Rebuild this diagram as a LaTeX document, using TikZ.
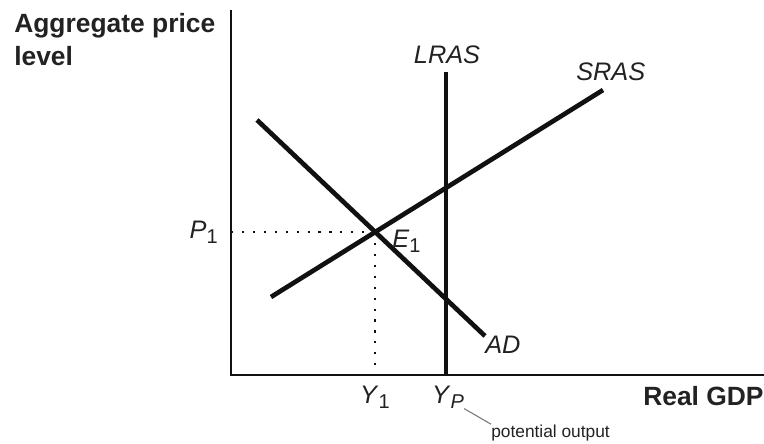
\documentclass[tikz,border=0pt]{standalone}
\usepackage{fontspec}
\setmainfont{Liberation Sans}
\usetikzlibrary{calc, positioning}
\definecolor{inkBlack}{HTML}{111111}
\definecolor{textGrey}{HTML}{222222}
\definecolor{pinGrey}{HTML}{777777}
\newcommand{\lowidx}[1]{\raisebox{-0.4ex}{\fontsize{15}{15}\selectfont #1}}
\tikzset{
  axis/.style  = {draw=inkBlack, line width=1.9pt},
  curve/.style = {draw=inkBlack, line width=3.5pt},
  guide/.style = {draw=inkBlack, line width=1.8pt, dash pattern=on 1.6pt off 6.6pt},
  axlbl/.style = {font=\fontsize{19.8}{24.75}\selectfont\bfseries, text=textGrey,
                  align=left, inner sep=0pt},
  crvlbl/.style= {font=\fontsize{19}{22}\selectfont\itshape, text=textGrey, inner sep=0pt},
  pnt/.style   = {font=\fontsize{19}{22}\selectfont, text=textGrey, inner sep=0pt},
  note/.style  = {font=\fontsize{13}{15}\selectfont, text=textGrey, inner sep=0pt},
  pinline/.style = {draw=pinGrey, line width=0.8pt}
}

\begin{document}
\begin{tikzpicture}[x=0.75pt, y=-0.75pt]
  \useasboundingbox (0,0) rectangle (764,443);

  % axes
  \coordinate (ytop) at (231,10);
  \coordinate (o) at (231,375);
  \coordinate (xend) at (764,375);
  \draw[axis] (ytop) -- (o) -- (xend);
  \node[axlbl, anchor=north west] (ylab) at (14,13) {Aggregate price\\level};
  \node[axlbl, anchor=base west] (xlab) at (643,405) {Real GDP};

  % curves
  \coordinate (lr0) at (446,72);
  \coordinate (lr1) at (446,375);
  \coordinate (sr0) at (271,297);
  \coordinate (sr1) at (603,90);
  \coordinate (ad0) at (257,120);
  \coordinate (ad1) at (485,336);
  \draw[curve] (lr0) -- (lr1);
  \draw[curve] (sr0) -- (sr1);
  \draw[curve] (ad0) -- (ad1);
  \node[crvlbl, anchor=base] (lras) at (447,63) {LRAS};
  \node[crvlbl, anchor=base west] (sras) at (576,80) {SRAS};
  \node[crvlbl, anchor=base west] (ad) at (485,353) {AD};

  % equilibrium
  \coordinate (E) at (intersection of ad0--ad1 and sr0--sr1);
  \coordinate (Ey) at (o |- E);
  \coordinate (Ex) at (E |- o);
  \draw[guide] (Ey) -- (E);
  \draw[guide] (E) -- (Ex);
  \node[pnt, anchor=base west] (e1) at (392,247) {\textit{E}\lowidx{1}};
  \node[pnt, anchor=base east] (p1) at (218,238) {\textit{P}\lowidx{1}};
  \node[pnt, anchor=base] (y1) at (375,403) {\textit{Y}\lowidx{1}};
  \node[pnt, anchor=base] (yp) at (448,403) {\textit{Y}\lowidx{\textit{P}}};

  \node[note, anchor=base west] (po) at (491,437) {potential output};
  \draw[pinline] (yp.south east) -- (po.north west);
\end{tikzpicture}
\end{document}
